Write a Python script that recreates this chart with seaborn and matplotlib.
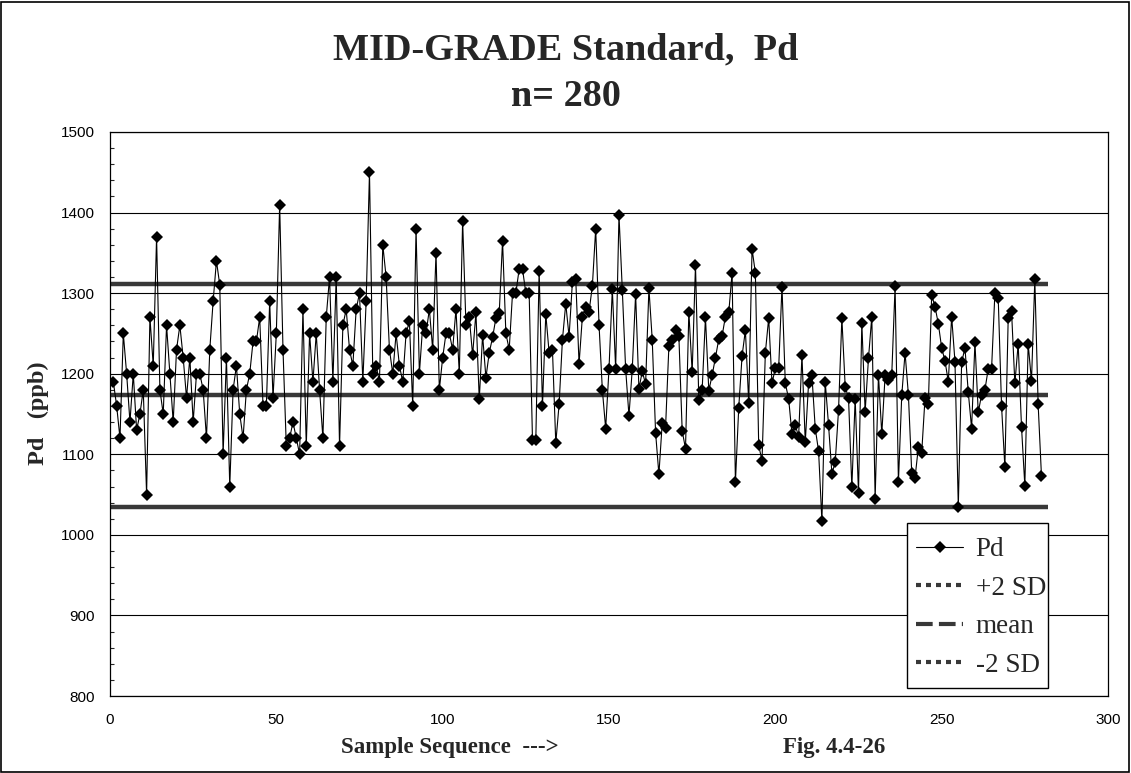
import numpy as np
import pandas as pd
import matplotlib
matplotlib.use("Agg")
import matplotlib.pyplot as plt
import seaborn as sns
from matplotlib.lines import Line2D
from matplotlib.patches import Rectangle
from matplotlib.ticker import MultipleLocator

# ---------------- data ----------------
pd_values = [
    1190, 1160, 1120, 1250, 1200, 1140, 1200, 1130, 1150, 1180,
    1050, 1270, 1210, 1370, 1180, 1150, 1260, 1200, 1140, 1230,
    1260, 1220, 1170, 1220, 1140, 1200, 1200, 1180, 1120, 1230,
    1290, 1340, 1310, 1100, 1220, 1060, 1180, 1210, 1150, 1120,
    1180, 1200, 1240, 1240, 1270, 1160, 1160, 1290, 1170, 1250,
    1410, 1230, 1110, 1120, 1140, 1120, 1100, 1280, 1110, 1250,
    1190, 1250, 1180, 1120, 1270, 1320, 1190, 1320, 1110, 1260,
    1280, 1230, 1210, 1280, 1300, 1190, 1290, 1450, 1200, 1210,
    1190, 1360, 1320, 1230, 1200, 1250, 1210, 1190, 1250, 1265,
    1160, 1380, 1200, 1260, 1250, 1280, 1230, 1350, 1180, 1220,
    1250, 1250, 1230, 1280, 1200, 1390, 1260, 1270, 1223, 1276,
    1168, 1248, 1195, 1226, 1245, 1269, 1275, 1365, 1250, 1230,
    1300, 1300, 1330, 1330, 1300, 1300, 1118, 1118, 1328, 1160,
    1274, 1226, 1230, 1114, 1162, 1242, 1287, 1246, 1314, 1318,
    1212, 1271, 1283, 1277, 1309, 1380, 1261, 1180, 1132, 1206,
    1305, 1206, 1397, 1304, 1206, 1148, 1206, 1299, 1181, 1203,
    1187, 1306, 1242, 1127, 1075, 1139, 1133, 1234, 1242, 1254,
    1247, 1129, 1107, 1277, 1202, 1335, 1167, 1180, 1270, 1179,
    1198, 1220, 1243, 1247, 1271, 1276, 1325, 1065, 1158, 1222,
    1254, 1164, 1355, 1325, 1111, 1092, 1226, 1269, 1188, 1207,
    1207, 1308, 1188, 1169, 1125, 1136, 1122, 1223, 1115, 1189,
    1198, 1132, 1104, 1017, 1190, 1136, 1076, 1090, 1155, 1269,
    1184, 1170, 1059, 1169, 1052, 1263, 1153, 1219, 1271, 1045,
    1199, 1125, 1198, 1192, 1199, 1309, 1065, 1173, 1226, 1174,
    1077, 1071, 1109, 1102, 1170, 1163, 1298, 1283, 1262, 1232,
    1216, 1190, 1271, 1215, 1035, 1214, 1232, 1177, 1132, 1239,
    1152, 1174, 1180, 1206, 1206, 1300, 1294, 1160, 1084, 1269,
    1278, 1188, 1237, 1134, 1061, 1237, 1191, 1317, 1162, 1073,
]
sample_seq = list(range(1, len(pd_values) + 1))

mean_level = 1173
plus2sd_level = 1311
minus2sd_level = 1035
ref_line_x = [0, 282]

y_ticks = [800, 900, 1000, 1100, 1200, 1300, 1400, 1500]
x_ticks = [0, 50, 100, 150, 200, 250, 300]

title_line1 = "MID-GRADE Standard,  Pd"
title_line2 = "n= 280"
y_label = "Pd   (ppb)"
x_label = "Sample Sequence  --->"
fig_label = "Fig. 4.4-26"
legend_labels = ["Pd", "+2 SD", "mean", "-2 SD"]

# ---------------- figure ----------------
sns.set_style("white")
plt.rcParams['font.family'] = ['Liberation Sans', 'DejaVu Sans']

W, H = 1131, 773
fig = plt.figure(figsize=(W / 100, H / 100), dpi=100)
fig.patch.set_facecolor("white")

L, R, T, B = 110, 1108, 132, 696
ax = fig.add_axes([L / W, 1 - B / H, (R - L) / W, (B - T) / H])

# reference level lines
df_lines = pd.DataFrame({
    "x": ref_line_x * 3,
    "y": [plus2sd_level] * 2 + [mean_level] * 2 + [minus2sd_level] * 2,
    "g": ["+2 SD"] * 2 + ["mean"] * 2 + ["-2 SD"] * 2,
})
for g in ["+2 SD", "mean", "-2 SD"]:
    sub = df_lines[df_lines.g == g]
    ax.plot(sub.x, sub.y, color="#383838", lw=3.2, solid_capstyle="butt", zorder=2)

# data series
df = pd.DataFrame({"Sample": sample_seq, "Pd": pd_values})
sns.lineplot(data=df, x="Sample", y="Pd", ax=ax, color="black", lw=0.8,
             marker="D", markersize=6.3, markeredgewidth=0, markerfacecolor="black",
             zorder=3, legend=False)

ax.set_xlim(0, 300)
ax.set_ylim(800, 1500)
ax.set_yticks(y_ticks)
ax.set_xticks(x_ticks)
ax.yaxis.set_minor_locator(MultipleLocator(20))
ax.tick_params(axis="y", which="major", direction="inout", length=6, width=0.8,
               labelsize=11, pad=8, colors="black")
ax.tick_params(axis="y", which="minor", direction="in", length=3, width=0.8, left=True)
ax.tick_params(axis="x", which="major", direction="out", length=4, width=0.8,
               labelsize=11, pad=8.5, colors="black")
ax.yaxis.grid(True, color="black", lw=0.8)
ax.xaxis.grid(False)
ax.set_axisbelow(True)
for s in ax.spines.values():
    s.set_color("black")
    s.set_linewidth(0.9)
ax.set_xlabel("")
ax.set_ylabel("")

# titles / labels
serif = ["Liberation Serif", "DejaVu Serif"]
fig.text(0.5, 1 - 50 / H, title_line1, ha="center", va="center",
         fontsize=27.5, fontweight="bold", family=serif)
fig.text(0.5, 1 - 97 / H, title_line2, ha="center", va="center",
         fontsize=27.5, fontweight="bold", family=serif)
fig.text(38 / W, 1 - 413 / H, y_label, rotation=90, ha="center", va="center",
         fontsize=17.5, fontweight="bold", family=serif)
fig.text(341 / W, 1 - 748 / H, x_label, ha="left", va="center",
         fontsize=16.5, fontweight="bold", family=serif)
fig.text(783 / W, 1 - 748 / H, fig_label, ha="left", va="center",
         fontsize=16.5, fontweight="bold", family=serif)

# legend (entries without frame, frame drawn as a separate box)
handles = [
    Line2D([], [], color="black", lw=0.8, marker="D", markersize=6.3, markeredgewidth=0),
    Line2D([], [], color="#383838", lw=3, linestyle=(0, (1.2, 1.2))),
    Line2D([], [], color="#383838", lw=3, linestyle=(0, (4, 1.5))),
    Line2D([], [], color="#383838", lw=3, linestyle=(0, (1.2, 1.2))),
]
leg = fig.legend(handles, legend_labels, loc="upper left",
                 bbox_to_anchor=(916 / W, 1 - 537 / H),
                 frameon=False, prop={"family": serif, "size": 19.5},
                 handlelength=1.75, handletextpad=0.45, labelspacing=0.5,
                 borderpad=0, borderaxespad=0)
fig.patches.append(Rectangle((907 / W, 1 - 688 / H), (1048 - 907) / W, (688 - 523) / H,
                             transform=fig.transFigure, facecolor="white",
                             edgecolor="black", lw=1.0, zorder=4))
leg.set_zorder(5)

# outer border
fig.patches.append(Rectangle((1 / W, 1 / H), 1 - 3 / W, 1 - 3 / H, transform=fig.transFigure,
                             fill=False, edgecolor="black", lw=1.2))

fig.savefig("out.png", dpi=100)
